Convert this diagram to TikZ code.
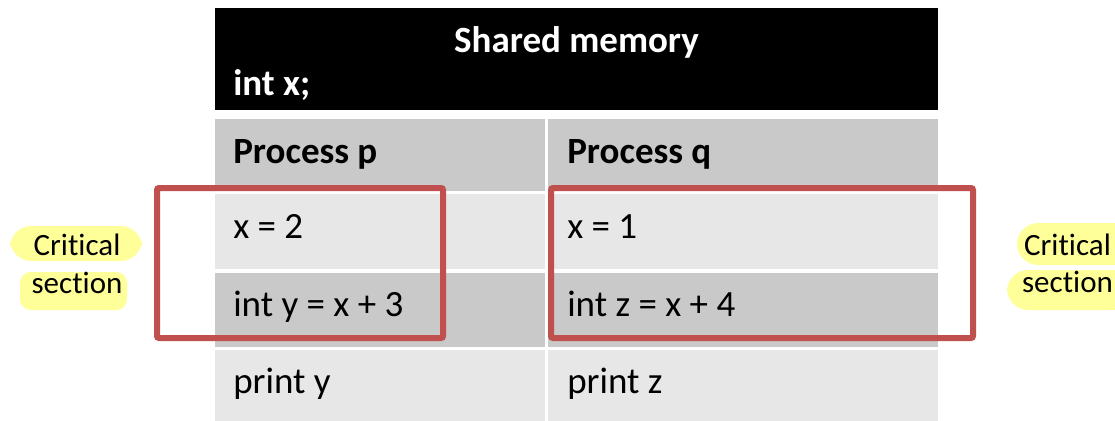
\documentclass[tikz,border=0pt]{standalone}
\usepackage{fontspec}
\setmainfont{Carlito}[Ligatures=NoCommon]
\definecolor{cellDark}{HTML}{C9C9C9}
\definecolor{cellLight}{HTML}{E7E7E7}
\definecolor{critRed}{HTML}{C0504D}
\definecolor{marker}{HTML}{FFFF99}
\tikzset{
  cell/.style={inner sep=0pt, anchor=base west, font=\fontsize{27.75}{33}\selectfont},
  boldcell/.style={cell, font=\fontsize{27.75}{33}\selectfont\bfseries},
  headtxt/.style={boldcell, text=white},
  labeltxt/.style={inner sep=0pt, anchor=base, font=\fontsize{23.25}{28}\selectfont},
  hilite/.style={fill=marker, draw=none, rounded corners=16},
  critbox/.style={draw=critRed, line width=4.5, rounded corners=1.5}
}
\begin{document}
\begin{tikzpicture}[x=0.75pt, y=-0.75pt]
  \useasboundingbox (0,0) rectangle (1115,421);
  % shared memory header
  \fill[black] (215,8) rectangle (938,110);
  % table rows
  \fill[cellDark]  (215,119) rectangle (545,191);
  \fill[cellDark]  (548,119) rectangle (938,191);
  \fill[cellLight] (215,194) rectangle (545,269);
  \fill[cellLight] (548,194) rectangle (938,269);
  \fill[cellDark]  (215,273) rectangle (545,347);
  \fill[cellDark]  (548,273) rectangle (938,347);
  \fill[cellLight] (215,350) rectangle (545,421);
  \fill[cellLight] (548,350) rectangle (938,421);
  % texts
  \node[headtxt, anchor=base] (shm) at (576.5,52) {Shared memory};
  \node[headtxt] (decl) at (233,95) {int x;};
  \node[boldcell] (hp) at (233,163) {Process p};
  \node[boldcell] (hq) at (567,163) {Process q};
  \node[cell] (p1) at (233,238) {x = 2};
  \node[cell] (q1) at (567,238) {x = 1};
  \node[cell] (p2) at (233,316) {int y = x + 3};
  \node[cell] (q2) at (567,316) {int z = x + 4};
  \node[cell] (p3) at (233,393) {print y};
  \node[cell] (q3) at (567,393) {print z};
  % critical section boxes
  \draw[critbox] (157,188) rectangle (443,338);
  \draw[critbox] (551,188) rectangle (973,338);
  % highlighted labels
  \fill[hilite] (10,226) rectangle (142,261);
  \fill[hilite, rounded corners=8] (20,272) rectangle (127,310);
  \fill[hilite] (1017,223) rectangle (1135,265);
  \fill[hilite] (1007,270) rectangle (1135,310);
  \node[labeltxt] (lc1) at (77,255) {Critical};
  \node[labeltxt] (lc2) at (77,293) {section};
  \node[labeltxt] (rc1) at (1067.5,255) {Critical};
  \node[labeltxt] (rc2) at (1067.5,292) {section};
\end{tikzpicture}
\end{document}
